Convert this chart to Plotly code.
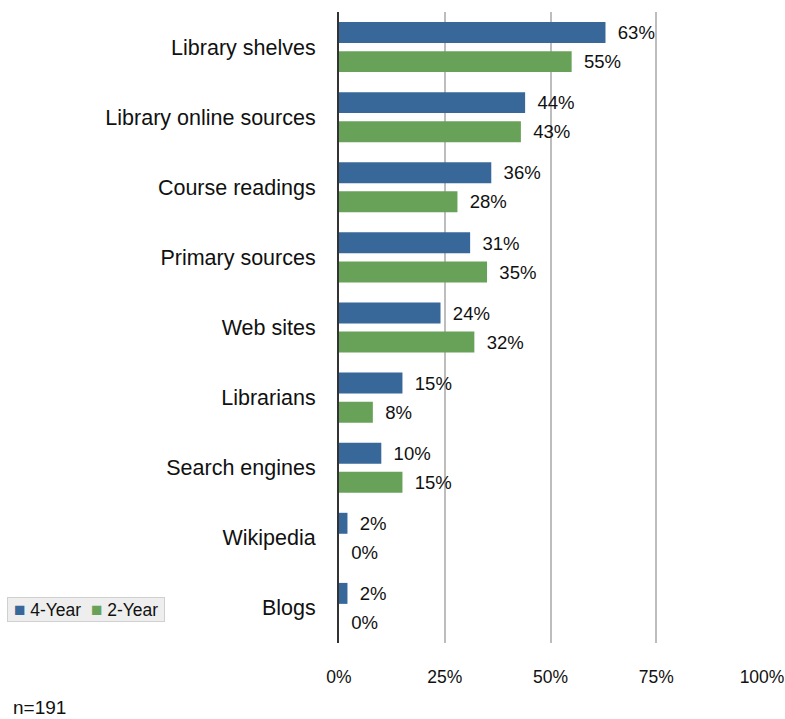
import plotly.graph_objects as go

categories = ["Library shelves", "Library online sources", "Course readings", "Primary sources",
              "Web sites", "Librarians", "Search engines", "Wikipedia", "Blogs"]
four_year = [63, 44, 36, 31, 24, 15, 10, 2, 2]
two_year = [55, 43, 28, 35, 32, 8, 15, 0, 0]
series_names = ["4-Year", "2-Year"]
series_colors = ["#386799", "#68a258"]
tick_vals = [0, 25, 50, 75, 100]
tick_text = ["0%", "25%", "50%", "75%", "100%"]
note = "n=191"

FONT = "Liberation Sans, Arial, Helvetica, sans-serif"

fig = go.Figure()
for name, vals, col in zip(series_names, [four_year, two_year], series_colors):
    fig.add_trace(go.Bar(
        y=categories, x=vals, orientation="h", name=name,
        marker=dict(color=col, line=dict(width=0)),
        text=[f"\u2002{v}%" for v in vals], textposition="outside",
        textfont=dict(size=19.5, color="#111111", family=FONT), cliponaxis=False,
    ))

W, H = 785, 719
L, R, T, B = 339, 23, 12, 76
pw, ph = W - L - R, H - T - B

fig.update_layout(
    width=W, height=H,
    margin=dict(l=L, r=R, t=T, b=B, autoexpand=False),
    barmode="group", bargap=0.17, bargroupgap=0.28,
    plot_bgcolor="white", paper_bgcolor="white",
    font=dict(family=FONT, size=18, color="#111111"),
    showlegend=False,
    uniformtext=dict(mode=False),
)
fig.update_xaxes(
    range=[0, 100], tickvals=tick_vals, ticktext=tick_text,
    showgrid=True, gridcolor="#bdbdbd", gridwidth=2,
    zeroline=False, showline=False, ticks="",
    tickfont=dict(size=17.5, family=FONT, color="#111111"),
    ticklabelstandoff=21,
)
fig.update_yaxes(
    categoryorder="array", categoryarray=categories, autorange="reversed",
    showgrid=False, zeroline=False, showline=True, linecolor="#333333", linewidth=2,
    ticks="", ticklabelstandoff=17,
    tickfont=dict(size=21.5, family=FONT, color="#111111"),
)

legend_text = "&nbsp;" + "&nbsp;&nbsp;".join(
    f"<span style='color:{c};font-size:19px'>■</span>&nbsp;{n}"
    for n, c in zip(series_names, series_colors)
) + "&nbsp;"
fig.add_annotation(
    text=legend_text, xref="paper", yref="paper",
    x=(7 - L) / pw, y=(T + ph - 609) / ph,
    xanchor="left", yanchor="middle", showarrow=False,
    bgcolor="#eeeeee", bordercolor="#d0d0d0", borderwidth=1, borderpad=1,
    font=dict(size=17.5, family=FONT, color="#111111"),
)
fig.add_annotation(
    text=note, xref="paper", yref="paper",
    x=(11 - L) / pw, y=(T + ph - 707) / ph,
    xanchor="left", yanchor="middle", showarrow=False,
    font=dict(size=19, family=FONT, color="#111111"),
)
fig.write_html(
    "out.html",
    config={"displayModeBar": False},
    post_script="document.body.style.margin='0';document.body.style.overflow='hidden';",
)
